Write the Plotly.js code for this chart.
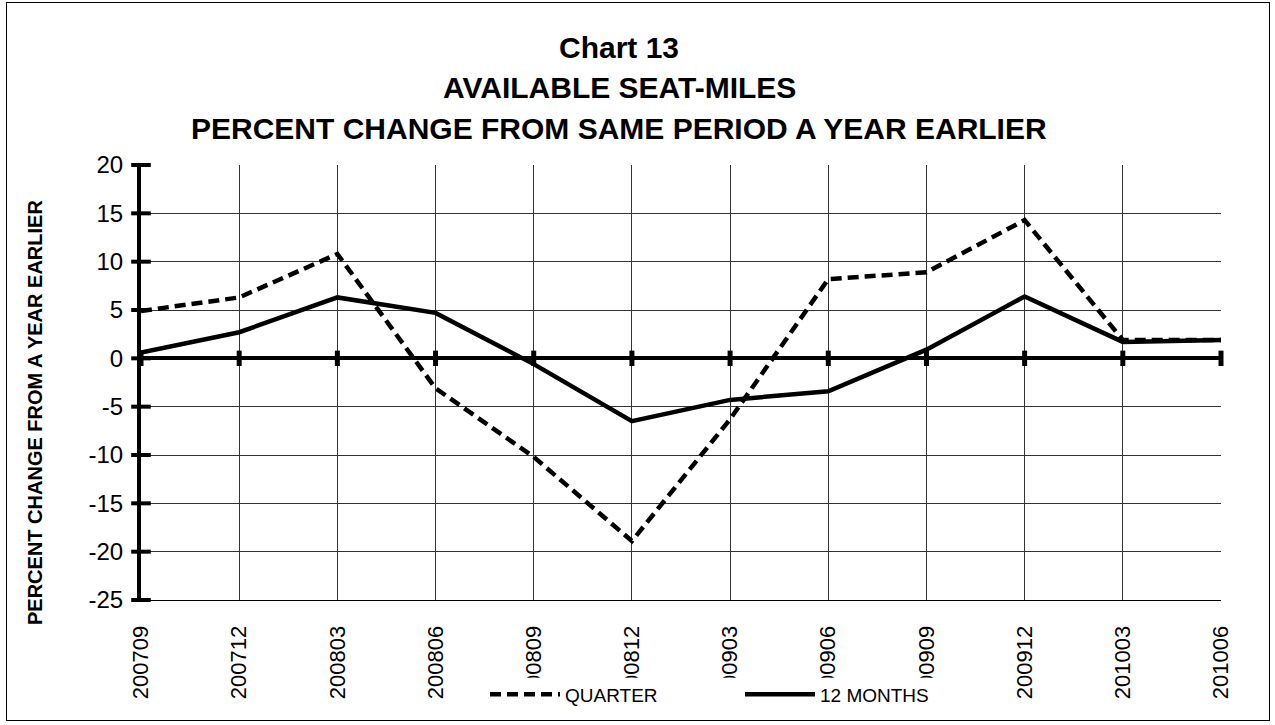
<!DOCTYPE html>
<html>
<head>
<meta charset="utf-8">
<script src="https://cdn.plot.ly/plotly-3.0.1.min.js"></script>
<style>
  html, body { margin: 0; padding: 0; background: #fff; }
  #wrap { position: relative; width: 1275px; height: 725px; }
  #chart { width: 1275px; height: 725px; }
  #frame { position: absolute; left: 6px; top: 2px; width: 1264px; height: 719px;
           border: 1px solid #000; pointer-events: none; box-sizing: border-box; }
</style>
</head>
<body>
<div id="wrap">
  <div id="chart"></div>
  <div id="frame"></div>
</div>
<script>
// ---- data ----
const categories = ['200709','200712','200803','200806','200809','200812','200903','200906','200909','200912','201003','201006'];
const quarterValues = [4.9, 6.3, 10.8, -3.1, -10.2, -18.9, -6.3, 8.2, 8.9, 14.3, 1.9, 1.9];
const twelveMonthValues = [0.6, 2.7, 6.3, 4.7, -0.6, -6.5, -4.3, -3.4, 0.9, 6.4, 1.7, 1.9];
const yTickValues = [20, 15, 10, 5, 0, -5, -10, -15, -20, -25];
const seriesNames = ['QUARTER', '12 MONTHS'];
const titleLines = ['Chart 13', 'AVAILABLE SEAT-MILES', 'PERCENT CHANGE FROM SAME PERIOD A YEAR EARLIER'];
const yAxisTitle = 'PERCENT CHANGE FROM A YEAR EARLIER';

const FONT = 'Liberation Sans, Arial, sans-serif';

// tick marks crossing the y axis (built from tick values)
const yAxisTicks = {
  x: yTickValues.map(() => categories[0]),
  y: yTickValues,
  type: 'scatter', mode: 'markers', showlegend: false, hoverinfo: 'skip', cliponaxis: false,
  marker: { symbol: 'line-ew-open', size: 14, color: '#000', line: { color: '#000', width: 4 } }
};
// tick marks crossing the zero line at each category
const zeroTicks = {
  x: categories,
  y: categories.map(() => 0),
  type: 'scatter', mode: 'markers', showlegend: false, hoverinfo: 'skip', cliponaxis: false,
  marker: { symbol: 'line-ns-open', size: 11, color: '#000', line: { color: '#000', width: 5 } }
};

const quarterTrace = {
  x: categories, y: quarterValues, name: seriesNames[0],
  type: 'scatter', mode: 'lines', cliponaxis: false,
  line: { color: '#000', width: 4.5, dash: '11px,6px' }
};
const twelveTrace = {
  x: categories, y: twelveMonthValues, name: seriesNames[1],
  type: 'scatter', mode: 'lines', cliponaxis: false,
  line: { color: '#000', width: 4.5 }
};

const L = 141, R = 54, T = 165, B = 118;
const plotW = 1275 - L - R, plotH = 725 - T - B;
const px2x = p => (p - L) / plotW;
const py2y = p => (725 - B - p) / plotH;

const layout = {
  width: 1275, height: 725,
  margin: { l: L, r: R, t: T, b: B, pad: 0 },
  paper_bgcolor: '#fff', plot_bgcolor: '#fff',
  font: { family: FONT, color: '#000' },
  showlegend: true,
  legend: {
    orientation: 'h', x: px2x(485), xanchor: 'left', y: py2y(703), yanchor: 'middle',
    font: { family: FONT, size: 19, color: '#000' },
    bgcolor: 'rgba(0,0,0,0)', itemwidth: 70, entrywidth: 170, traceorder: 'normal'
  },
  xaxis: {
    type: 'category', range: [0, categories.length - 1],
    showgrid: true, gridcolor: '#333', gridwidth: 1,
    showline: true, linecolor: '#000', linewidth: 1, mirror: false,
    ticks: '', tickangle: -90, ticklabelstandoff: 16,
    tickfont: { family: FONT, size: 22, color: '#000' },
    zeroline: false, fixedrange: true
  },
  yaxis: {
    range: [-25, 20], tickvals: yTickValues, ticktext: yTickValues.map(String),
    showgrid: true, gridcolor: '#333', gridwidth: 1,
    showline: true, linecolor: '#000', linewidth: 4,
    ticks: '', ticklabelstandoff: 9,
    tickfont: { family: FONT, size: 24, color: '#000' },
    zeroline: true, zerolinecolor: '#000', zerolinewidth: 4, fixedrange: true
  },
  shapes: [
    { type: 'rect', xref: 'paper', yref: 'paper', layer: 'above',
      x0: px2x(455), x1: px2x(1000), y0: py2y(722), y1: py2y(686),
      fillcolor: '#fff', line: { width: 0 } }
  ],
  annotations: [
    { text: '<b>' + titleLines[0] + '</b>', xref: 'paper', yref: 'paper', x: px2x(619), y: py2y(46),
      xanchor: 'center', yanchor: 'middle', showarrow: false, font: { family: FONT, size: 30, color: '#000' } },
    { text: '<b>' + titleLines[1] + '</b>', xref: 'paper', yref: 'paper', x: px2x(619), y: py2y(86),
      xanchor: 'center', yanchor: 'middle', showarrow: false, font: { family: FONT, size: 30, color: '#000' } },
    { text: '<b>' + titleLines[2] + '</b>', xref: 'paper', yref: 'paper', x: px2x(619), y: py2y(128),
      xanchor: 'center', yanchor: 'middle', showarrow: false, font: { family: FONT, size: 30, color: '#000' } },
    { text: '<b>' + yAxisTitle + '</b>', xref: 'paper', yref: 'paper', x: px2x(35), y: py2y(417),
      xanchor: 'center', yanchor: 'middle', textangle: -90, showarrow: false,
      font: { family: FONT, size: 20, color: '#000' } }
  ]
};

Plotly.newPlot('chart', [yAxisTicks, zeroTicks, quarterTrace, twelveTrace], layout, { staticPlot: true, displayModeBar: false });
</script>
</body>
</html>
